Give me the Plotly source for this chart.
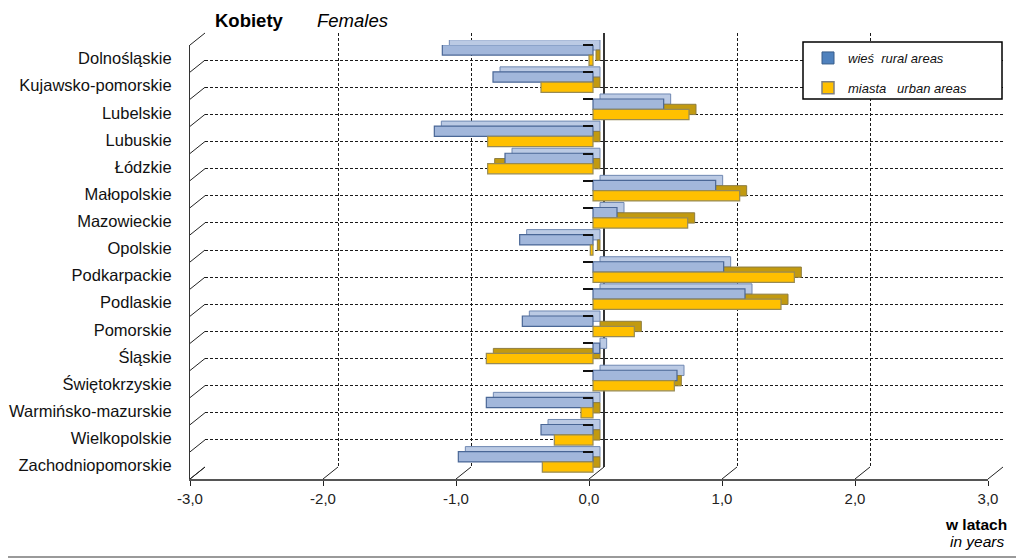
import plotly.graph_objects as go

# ---------------- data ----------------
regions = ["Dolnośląskie", "Kujawsko-pomorskie", "Lubelskie", "Lubuskie", "Łódzkie",
           "Małopolskie", "Mazowieckie", "Opolskie", "Podkarpackie", "Podlaskie",
           "Pomorskie", "Śląskie", "Świętokrzyskie", "Warmińsko-mazurskie",
           "Wielkopolskie", "Zachodniopomorskie"]
rural = [-1.13, -0.75, 0.53, -1.19, -0.66, 0.92, 0.18, -0.55, 0.98, 1.14,
         -0.53, 0.05, 0.63, -0.80, -0.39, -1.01]
urban = [-0.03, -0.39, 0.72, -0.79, -0.79, 1.10, 0.71, -0.02, 1.51, 1.41,
         0.31, -0.80, 0.61, -0.09, -0.29, -0.38]
x_ticks = [-3, -2, -1, 0, 1, 2, 3]
x_tick_text = [f"{v:.1f}".replace(".", ",") for v in x_ticks]
rural_name = "wieś\u00a0\u00a0rural areas"
urban_name = "miasta\u00a0\u00a0\u00a0urban areas"

# ---------------- geometry helpers (page has an 8px body margin) ----------------
OFF = 8
W, H = 1024 - OFF, 559 - OFF   # figure placed at (8, 8) by the page
def px(x):
    return (x - OFF) / W
def py(y):
    return 1 - (y - OFF) / H

FX0, FX1 = 190, 988      # front frame (x)
FY0, FY1 = 45, 479       # front frame (y)
DX, DY = 15, -12         # 3D depth offset of the walls
BX0, BX1 = 193, 993      # bar plane
BDX, BDY = 7, -5         # bar depth

FONT = "Liberation Sans, Arial, sans-serif"
n = len(regions)

fig = go.Figure()

# 1) back wall subplot (x, y) - gridlines only
fig.add_trace(go.Scatter(x=[None], y=[None], xaxis="x", yaxis="y",
                         showlegend=False, hoverinfo="skip"))
# 2) bar depth faces (x2, y2)
fig.add_trace(go.Bar(y=regions, x=rural, orientation="h", xaxis="x2", yaxis="y2",
                     width=0.38, offset=-0.51, showlegend=False, hoverinfo="skip",
                     marker=dict(color="#BBCAE4", line=dict(color="#7088B2", width=1)),
                     cliponaxis=False))
fig.add_trace(go.Bar(y=regions, x=urban, orientation="h", xaxis="x2", yaxis="y2",
                     width=0.38, offset=-0.13, showlegend=False, hoverinfo="skip",
                     marker=dict(color="#C29A10", line=dict(color="#8E7D40", width=1)),
                     cliponaxis=False))
# 3) bar front faces (x3, y3)
fig.add_trace(go.Bar(y=regions, x=rural, orientation="h", name=rural_name,
                     xaxis="x3", yaxis="y3", width=0.38, offset=-0.51, showlegend=False,
                     marker=dict(color="#A2B7DB", line=dict(color="#4A6796", width=1.2)),
                     cliponaxis=False, legendgroup="r"))
fig.add_trace(go.Bar(y=regions, x=urban, orientation="h", name=urban_name,
                     xaxis="x3", yaxis="y3", width=0.38, offset=-0.13, showlegend=False,
                     marker=dict(color="#FFC000", line=dict(color="#978A55", width=1.2)),
                     cliponaxis=False, legendgroup="u"))
# legend entries (symbol colours as in the original legend)
fig.add_trace(go.Bar(y=[None], x=[None], orientation="h", name=rural_name,
                     xaxis="x3", yaxis="y3", legendgroup="r",
                     marker=dict(color="#4F81BD", line=dict(color="#385D8A", width=1))))
fig.add_trace(go.Bar(y=[None], x=[None], orientation="h", name=urban_name,
                     xaxis="x3", yaxis="y3", legendgroup="u",
                     marker=dict(color="#FFC000", line=dict(color="#7F7F7F", width=1.5))))
# 4) front frame (x4, y4) - tick labels
fig.add_trace(go.Scatter(x=[None] * n, y=regions, xaxis="x4", yaxis="y4",
                         showlegend=False, hoverinfo="skip", mode="markers"))

grid_col = "#1a1a1a"
shapes = []
# left wall diagonal ticks
for k in range(n + 1):
    fy = FY0 + k * (FY1 - FY0) / n
    shapes.append(dict(type="line", xref="paper", yref="paper",
                       x0=px(FX0), y0=py(fy), x1=px(FX0 + DX), y1=py(fy + DY),
                       line=dict(color="#222", width=1)))
# floor diagonal ticks
for i, k in enumerate(x_ticks):
    fx = FX0 + i * (FX1 - FX0) / (len(x_ticks) - 1)
    shapes.append(dict(type="line", xref="paper", yref="paper",
                       x0=px(fx), y0=py(FY1), x1=px(fx + DX), y1=py(FY1 + DY),
                       line=dict(color="#222", width=1)))
# legend box
shapes.append(dict(type="rect", xref="paper", yref="paper", layer="above",
                   x0=px(803), x1=px(1002), y0=py(99), y1=py(42),
                   line=dict(color="black", width=1.5), fillcolor="white"))
# outer gray border (bottom and right)
for (x0, y0, x1, y1) in [(OFF, 557, 1022, 557), (1022, OFF, 1022, 557)]:
    shapes.append(dict(type="line", xref="paper", yref="paper",
                       x0=px(x0), y0=py(y0), x1=px(x1), y1=py(y1),
                       line=dict(color="#9a9a9a", width=2)))

cat_axis = dict(type="category", categoryorder="array", categoryarray=regions,
                range=[n - 0.5, -0.5], showgrid=False, zeroline=False)

fig.update_layout(
    width=W, height=H, autosize=False,
    margin=dict(l=0, r=0, t=0, b=0, pad=0, autoexpand=False),
    paper_bgcolor="white", plot_bgcolor="rgba(0,0,0,0)",
    font=dict(family=FONT, color="black"),
    barmode="overlay",
    showlegend=True,
    legend=dict(x=px(808), y=py(43), xanchor="left", yanchor="top",
                bgcolor="rgba(0,0,0,0)", borderwidth=0,
                font=dict(size=13, style="italic", family=FONT, color="#111"),
                tracegroupgap=10, traceorder="grouped"),
    # back wall
    xaxis=dict(domain=[px(FX0 + DX), px(FX1 + DX)], range=[-3, 3], dtick=1, tick0=0,
               showgrid=True, gridcolor=grid_col, griddash="3px,2px", gridwidth=1,
               zeroline=True, zerolinecolor="#333", zerolinewidth=2,
               showticklabels=False, ticks="", showline=False, anchor="y"),
    yaxis=dict(domain=[py(FY1 + DY), py(FY0 + DY)], range=[n, 0], dtick=1, tick0=0,
               showgrid=True, gridcolor=grid_col, griddash="3px,2px", gridwidth=1,
               zeroline=False, showticklabels=False, ticks="", showline=False, anchor="x"),
    # bar depth
    xaxis2=dict(domain=[px(BX0 + BDX), px(BX1 + BDX)], range=[-3, 3], visible=False,
                anchor="y2"),
    yaxis2=dict(domain=[py(FY1 + BDY), py(FY0 + BDY)], visible=False, anchor="x2",
                **cat_axis),
    # bar fronts
    xaxis3=dict(domain=[px(BX0), px(BX1)], range=[-3, 3], visible=False, anchor="y3"),
    yaxis3=dict(domain=[py(FY1), py(FY0)], anchor="free",
                position=px(BX0 + (BX1 - BX0) / 2),
                showticklabels=False, showline=False,
                ticks="outside", tickson="boundaries", ticklen=10, tickcolor="#111",
                tickwidth=1.5, **cat_axis),
    # front frame
    xaxis4=dict(domain=[px(FX0), px(FX1)], range=[-3, 3], tickvals=x_ticks,
                ticktext=x_tick_text, showgrid=False, zeroline=False,
                showline=True, linecolor="#555", linewidth=1.5,
                ticks="outside", ticklen=5, tickcolor="#222",
                tickfont=dict(size=15, family=FONT, color="#222"), anchor="y4"),
    yaxis4=dict(domain=[py(FY1), py(FY0)], showline=True, linecolor="#333",
                linewidth=1.2, ticks="", ticklabelstandoff=14,
                tickfont=dict(size=16.5, family=FONT, color="#111"), anchor="x4",
                **cat_axis),
    shapes=shapes,
    annotations=[
        dict(text="<b>Kobiety</b>", xref="paper", yref="paper", x=px(214), y=py(20.5),
             xanchor="left", yanchor="middle", showarrow=False, borderpad=0,
             font=dict(size=18.5, family=FONT, color="black")),
        dict(text="<i>Females</i>", xref="paper", yref="paper", x=px(316), y=py(20.5),
             xanchor="left", yanchor="middle", showarrow=False, borderpad=0,
             font=dict(size=18.5, family=FONT, color="black")),
        dict(text="<b>w latach</b>", xref="paper", yref="paper", x=px(1009), y=py(524),
             xanchor="right", yanchor="middle", showarrow=False,
             font=dict(size=15.5, family=FONT, color="black")),
        dict(text="<i>in years</i>", xref="paper", yref="paper", x=px(1007), y=py(541),
             xanchor="right", yanchor="middle", showarrow=False,
             font=dict(size=15.5, family=FONT, color="black")),
    ],
)

fig.write_html("out.html")
